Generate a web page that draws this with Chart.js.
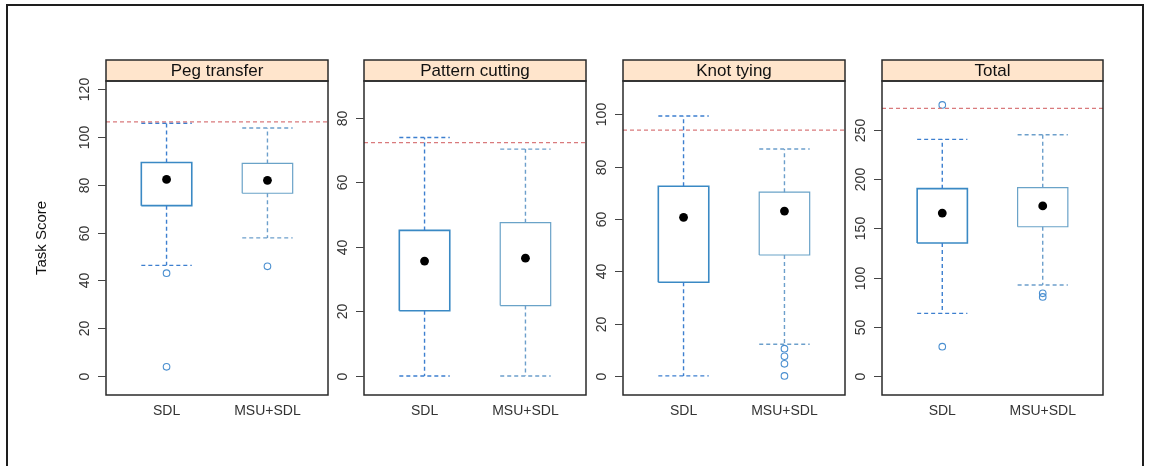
<!DOCTYPE html>
<html>
<head>
<meta charset="utf-8">
<script src="https://cdn.jsdelivr.net/npm/chart.js@4/dist/chart.umd.min.js"></script>
<style>
  html, body { margin: 0; padding: 0; background: #fff; width: 1149px; height: 466px; overflow: hidden; }
  #frame { position: absolute; left: 6px; top: 4px; width: 1134px; height: 480px; border: 2px solid #1e1e1e; }
  canvas { position: absolute; }
</style>
</head>
<body>
<div id="frame"></div>
<canvas id="c0"></canvas>
<canvas id="c1"></canvas>
<canvas id="c2"></canvas>
<canvas id="c3"></canvas>
<script>
// ---- data ----
const categories = ['SDL', 'MSU+SDL'];
const panelTitles = ['Peg transfer', 'Pattern cutting', 'Knot tying', 'Total'];
const lowerWhisker = [[46.3, 57.8], [0, 0], [0, 12.1], [63.7, 92.5]];
const lowerHinge   = [[71.3, 76.5], [20.2, 21.8], [35.8, 46.2], [135.2, 151.7]];
const upperHinge   = [[89.4, 89.0], [45.1, 47.5], [72.5, 70.2], [190.4, 191.4]];
const upperWhisker = [[105.8, 103.8], [73.9, 70.3], [99.3, 86.7], [240.5, 245.2]];
const meanValues   = [[82.3, 81.9], [35.6, 36.5], [60.6, 63.0], [165.6, 172.8]];
const outlierValues = [[[43.0, 3.8], [45.9]], [[], []], [[], [10.4, 7.5, 4.6, 0]], [[275.5, 29.8], [84.0, 80.4]]];
const referenceLine = [106.4, 72.3, 93.9, 272.0];
const yTickValues = [[0, 20, 40, 60, 80, 100, 120], [0, 20, 40, 60, 80], [0, 20, 40, 60, 80, 100], [0, 50, 100, 150, 200, 250]];
const yRangeMin = [-8, -5.9, -7.3, -19.3];
const yRangeMax = [123.5, 91.4, 112.7, 299.8];

// ---- layout / style ----
const panelLeft = [106, 364, 623, 882];
const panelRight = [328, 586, 845, 1103];
const plotTop = 81, plotBottom = 395, canvasTop = 50, canvasBottom = 450;
const stripH = 21;
const boxHalf = 0.25;
const boxColor = ['#3a89c4', '#6aa3c8'];
const whiskColor = ['#3d7fcf', '#6c9fcb'];
const boxWidth = [1.6, 1.2];
const FONT = '"Liberation Sans", Arial, Helvetica, sans-serif';

const panelDecor = {
  id: 'panelDecor',
  afterDraw(chart, args, opts) {
    const { ctx, chartArea: a, scales: { x, y } } = chart;
    const i = opts.index;
    ctx.save();
    // strip
    ctx.fillStyle = '#ffe5cc';
    ctx.fillRect(a.left, a.top - stripH, a.right - a.left, stripH);
    ctx.strokeStyle = '#2a2a2a';
    ctx.lineWidth = 1.5;
    ctx.strokeRect(a.left, a.top - stripH, a.right - a.left, stripH);
    ctx.strokeRect(a.left, a.top, a.right - a.left, a.bottom - a.top);
    ctx.fillStyle = '#111';
    ctx.font = '17px ' + FONT;
    ctx.textAlign = 'center';
    ctx.textBaseline = 'middle';
    ctx.fillText(panelTitles[i], (a.left + a.right) / 2, a.top - stripH / 2 + 0.5);
    // y ticks
    ctx.strokeStyle = '#444';
    ctx.lineWidth = 1;
    ctx.fillStyle = '#333';
    ctx.font = '14px ' + FONT;
    yTickValues[i].forEach(v => {
      const py = Math.round(y.getPixelForValue(v)) + 0.5;
      ctx.beginPath();
      ctx.moveTo(a.left - 8, py);
      ctx.lineTo(a.left, py);
      ctx.stroke();
      ctx.save();
      ctx.translate(a.left - 17, py);
      ctx.rotate(-Math.PI / 2);
      ctx.textAlign = 'center';
      ctx.textBaseline = 'alphabetic';
      ctx.fillText(String(v), 0, 0);
      ctx.restore();
    });
    // x labels
    ctx.font = '14px ' + FONT;
    ctx.textAlign = 'center';
    ctx.textBaseline = 'middle';
    categories.forEach((c, k) => {
      ctx.fillText(c, x.getPixelForValue(k + 1), a.bottom + 16);
    });
    if (i === 0) {
      ctx.save();
      ctx.fillStyle = '#111';
      ctx.font = '15px ' + FONT;
      ctx.translate(a.left - 60, (a.top + a.bottom) / 2);
      ctx.rotate(-Math.PI / 2);
      ctx.textAlign = 'center';
      ctx.textBaseline = 'alphabetic';
      ctx.fillText('Task Score', 0, 0);
      ctx.restore();
    }
    ctx.restore();
  }
};

function lineDS(points, color, width, dash) {
  return {
    type: 'line', data: points, borderColor: color, borderWidth: width,
    borderDash: dash || [], pointRadius: 0, fill: false, tension: 0,
    borderJoinStyle: 'miter', borderCapStyle: 'butt'
  };
}

for (let i = 0; i < 4; i++) {
  const padL = i === 0 ? 86 : 60;
  const padR = 8;
  const cv = document.getElementById('c' + i);
  const w = panelRight[i] - panelLeft[i] + padL + padR;
  const h = canvasBottom - canvasTop;
  cv.width = w; cv.height = h;
  cv.style.left = (panelLeft[i] - padL) + 'px';
  cv.style.top = canvasTop + 'px';
  cv.style.width = w + 'px'; cv.style.height = h + 'px';

  const ds = [];
  ds.push(lineDS([{ x: 0.4, y: referenceLine[i] }, { x: 2.6, y: referenceLine[i] }], '#d97a7c', 1.2, [4, 3]));
  categories.forEach((c, g) => {
    const cx = g + 1;
    const q1 = lowerHinge[i][g], q3 = upperHinge[i][g];
    const lo = lowerWhisker[i][g], hi = upperWhisker[i][g];
    // whiskers
    ds.push(lineDS([{ x: cx, y: q3 }, { x: cx, y: hi }], whiskColor[g], 1.4, [4, 3]));
    ds.push(lineDS([{ x: cx - boxHalf, y: hi }, { x: cx + boxHalf, y: hi }], whiskColor[g], 1.4, [4, 3]));
    ds.push(lineDS([{ x: cx, y: q1 }, { x: cx, y: lo }], whiskColor[g], 1.4, [4, 3]));
    ds.push(lineDS([{ x: cx - boxHalf, y: lo }, { x: cx + boxHalf, y: lo }], whiskColor[g], 1.4, [4, 3]));
    // box
    ds.push(lineDS([
      { x: cx - boxHalf, y: q1 }, { x: cx + boxHalf, y: q1 },
      { x: cx + boxHalf, y: q3 }, { x: cx - boxHalf, y: q3 },
      { x: cx - boxHalf, y: q1 }
    ], boxColor[g], boxWidth[g]));
    // outliers
    ds.push({
      type: 'scatter',
      data: outlierValues[i][g].map(v => ({ x: cx, y: v })),
      pointRadius: 3.3, pointBorderWidth: 1.1, pointBorderColor: '#4a8fd0',
      pointBackgroundColor: 'rgba(255,255,255,0)', showLine: false
    });
  });
  ds.push({
    type: 'scatter',
    data: meanValues[i].map((v, g) => ({ x: g + 1, y: v })),
    pointRadius: 4.4, pointBorderWidth: 0, pointBackgroundColor: '#000', pointBorderColor: '#000',
    showLine: false
  });

  new Chart(cv.getContext('2d'), {
    type: 'line',
    data: { datasets: ds },
    options: {
      responsive: false,
      animation: false,
      devicePixelRatio: 1,
      layout: { padding: { left: padL, right: padR, top: plotTop - canvasTop, bottom: canvasBottom - plotBottom } },
      plugins: { legend: { display: false }, tooltip: { enabled: false }, panelDecor: { index: i } },
      scales: {
        x: { type: 'linear', min: 0.4, max: 2.6, display: false },
        y: { type: 'linear', min: yRangeMin[i], max: yRangeMax[i], display: false }
      }
    },
    plugins: [panelDecor]
  });
}
</script>
</body>
</html>
